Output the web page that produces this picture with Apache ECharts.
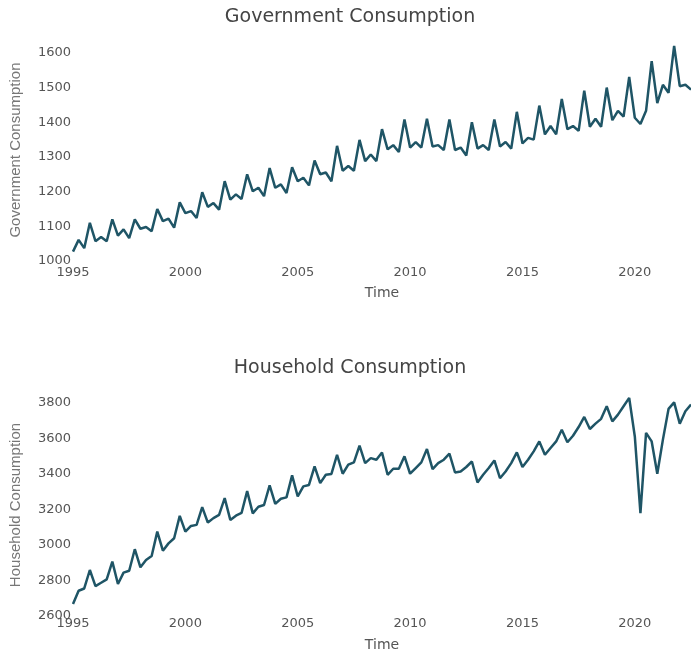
<!DOCTYPE html>
<html>
<head>
<meta charset="utf-8">
<script src="https://cdn.jsdelivr.net/npm/echarts@6/dist/echarts.min.js"></script>
<style>
  html, body { margin: 0; padding: 0; background: #fff; }
  #chart { width: 691px; height: 653px; }
</style>
</head>
<body>
<div id="chart"></div>
<script>
// quarterly series, 1995 Q1 .. 2022 Q3
var startYear = 1995;
var govValues = [
  1027, 1061, 1037, 1110,
  1057, 1069, 1057, 1120,
  1073, 1091, 1066, 1120,
  1093, 1098, 1086, 1150,
  1115, 1122, 1096, 1169,
  1138, 1144, 1124, 1198,
  1156, 1167, 1148, 1230,
  1177, 1192, 1179, 1250,
  1201, 1211, 1187, 1268,
  1211, 1221, 1196, 1270,
  1230, 1240, 1218, 1290,
  1250, 1255, 1230, 1332,
  1260, 1274, 1260, 1349,
  1288, 1307, 1288, 1380,
  1322, 1334, 1314, 1408,
  1327, 1343, 1327, 1410,
  1330, 1334, 1320, 1408,
  1320, 1327, 1304, 1400,
  1324, 1334, 1320, 1408,
  1330, 1343, 1324, 1430,
  1339, 1355, 1350, 1448,
  1365, 1389, 1365, 1467,
  1380, 1389, 1375, 1491,
  1387, 1410, 1387, 1500,
  1406, 1433, 1416, 1531,
  1413, 1395, 1433, 1576,
  1455, 1508, 1485, 1620,
  1504, 1508, 1494
];
var houseValues = [
  2667, 2742, 2755, 2859,
  2768, 2787, 2806, 2906,
  2780, 2844, 2855, 2976,
  2874, 2915, 2938, 3075,
  2968, 3009, 3038, 3164,
  3075, 3107, 3113, 3213,
  3126, 3151, 3169, 3264,
  3141, 3165, 3180, 3303,
  3178, 3215, 3225, 3335,
  3231, 3260, 3268, 3392,
  3273, 3330, 3338, 3442,
  3348, 3395, 3400, 3508,
  3401, 3452, 3465, 3559,
  3461, 3489, 3480, 3521,
  3395, 3429, 3429, 3499,
  3401, 3433, 3465, 3540,
  3427, 3461, 3480, 3514,
  3408, 3414, 3439, 3470,
  3352, 3395, 3433, 3476,
  3376, 3414, 3461, 3521,
  3439, 3480, 3527, 3583,
  3508, 3546, 3583, 3649,
  3578, 3615, 3664, 3721,
  3653, 3683, 3710, 3781,
  3696, 3734, 3781, 3828,
  3611, 3179, 3631, 3583,
  3401, 3593, 3766, 3803,
  3683, 3753, 3791
];
var xTicks = [1995, 2000, 2005, 2010, 2015, 2020];

function toPoints(values) {
  return values.map(function (v, i) {
    return [startYear + i * 0.25, v];
  });
}

var tickFont = 'DejaVu Sans';
var lineColor = '#1f5566';

function xAxis(gridIndex, labelMargin, nameGap) {
  return {
    type: 'value', gridIndex: gridIndex,
    min: 1995, max: 2022.5, interval: 5,
    axisLine: { show: false }, axisTick: { show: false }, splitLine: { show: false },
    axisLabel: {
      margin: labelMargin, color: '#555', fontFamily: tickFont, fontSize: 13,
      showMaxLabel: false,
      formatter: function (v) { return xTicks.indexOf(v) >= 0 ? String(v) : ''; }
    },
    name: 'Time', nameLocation: 'middle', nameGap: nameGap,
    nameTextStyle: { color: '#555', fontFamily: tickFont, fontSize: 14 }
  };
}

function yAxis(gridIndex, min, max, interval, name) {
  return {
    type: 'value', gridIndex: gridIndex,
    min: min, max: max, interval: interval,
    axisLine: { show: false }, axisTick: { show: false }, splitLine: { show: false },
    axisLabel: {
      margin: 2, color: '#555', fontFamily: tickFont, fontSize: 13, showMaxLabel: false,
      formatter: function (v) { return String(v); }
    },
    name: name, nameLocation: 'middle', nameGap: 50, nameRotate: 90,
    nameTextStyle: { color: '#777', fontFamily: 'Liberation Sans', fontSize: 15 }
  };
}

var myChart = echarts.init(document.getElementById('chart'));
myChart.setOption({
  animation: false,
  backgroundColor: '#fff',
  title: [{
    text: 'Government Consumption', left: 350, top: 8, textAlign: 'center', padding: 0,
    textStyle: { color: '#444', fontFamily: tickFont, fontSize: 19, fontWeight: 'normal' }
  }, {
    text: 'Household Consumption', left: 350, top: 359, textAlign: 'center', padding: 0,
    textStyle: { color: '#444', fontFamily: tickFont, fontSize: 19, fontWeight: 'normal' }
  }],
  grid: [
    { left: 73, right: 0, top: 39, height: 222 },
    { left: 73, right: 0, top: 394, height: 222 }
  ],
  xAxis: [xAxis(0, 5, 25), xAxis(1, 1, 22)],
  yAxis: [
    yAxis(0, 1000, 1640, 100, 'Government Consumption'),
    yAxis(1, 2600, 3850, 200, 'Household Consumption')
  ],
  series: [{
    type: 'line', xAxisIndex: 0, yAxisIndex: 0,
    data: toPoints(govValues), showSymbol: false,
    lineStyle: { color: lineColor, width: 2.5 }
  }, {
    type: 'line', xAxisIndex: 1, yAxisIndex: 1,
    data: toPoints(houseValues), showSymbol: false,
    lineStyle: { color: lineColor, width: 2.5 }
  }]
});
</script>
</body>
</html>
